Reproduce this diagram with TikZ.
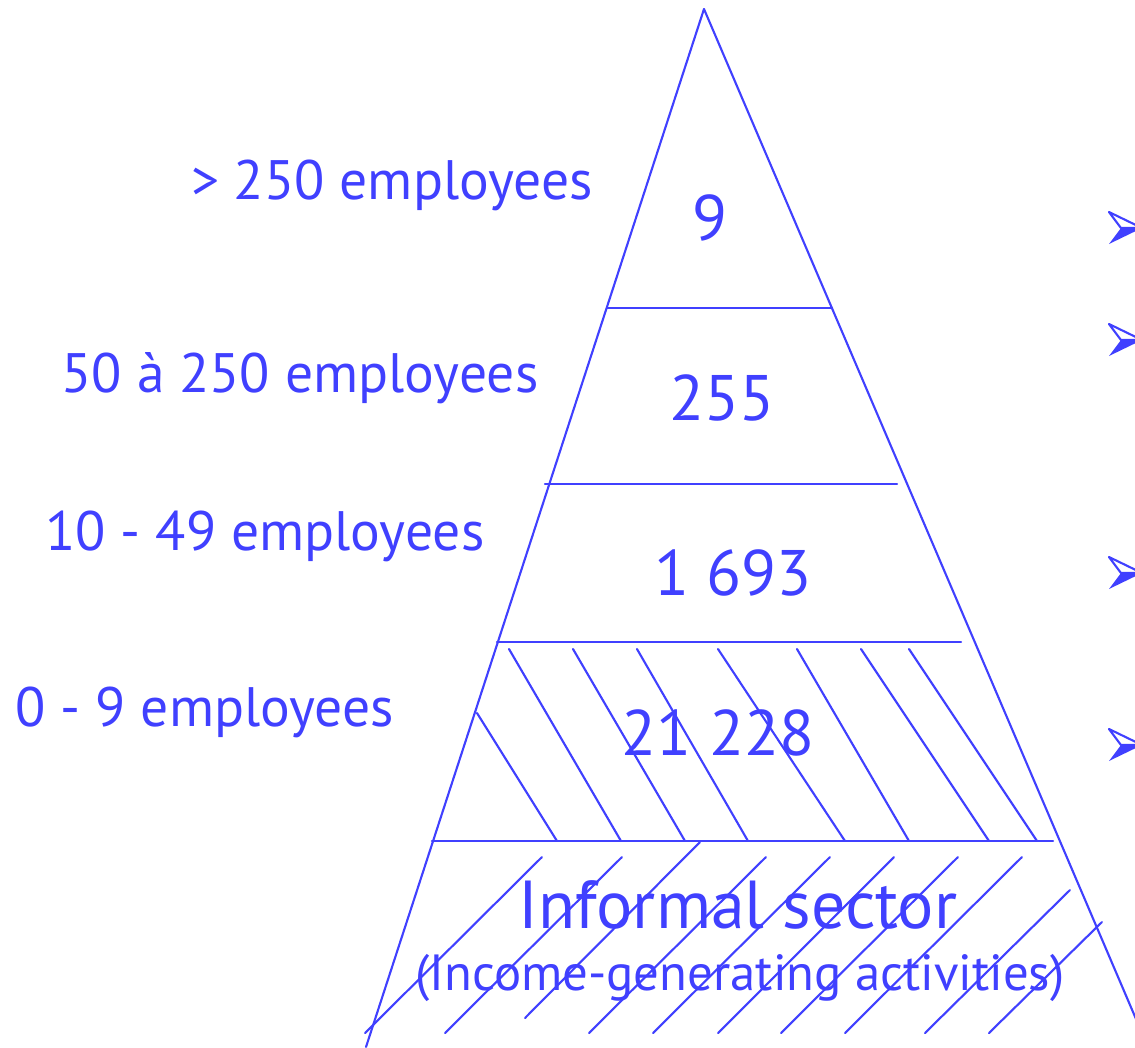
\documentclass[tikz,border=0pt]{standalone}
\usepackage{fontspec}
\setmainfont{PT Sans}
\usepackage{xcolor}
\definecolor{pyrblue}{RGB}{64,64,255}

\begin{document}
\begin{tikzpicture}[line cap=round,line join=round,x=0.01cm,y=-0.01cm,
  pyr/.style={draw=pyrblue,line width=0.6pt},
  lbl/.style={text=pyrblue,anchor=base,inner sep=0pt,font=\fontsize{15.8}{18}\selectfont},
  num/.style={text=pyrblue,anchor=base,inner sep=0pt,font=\fontsize{18.3}{21}\selectfont}]
\useasboundingbox (0,0) rectangle (1135,1047);
\clip (0,0) rectangle (1135,1047);
% pyramid sides
\draw[pyr] (704,9)-- (366,1047);
\draw[pyr] (704,9)-- (1148,1047);
% levels
\draw[pyr] (607,308)-- (832,308);
\draw[pyr] (545,484)-- (897,484);
\draw[pyr] (497,642)-- (961,642);
\draw[pyr] (432,841)-- (1053,841);
% hatching of the small firms
\draw[pyr] (477,713)-- (557,841);
\draw[pyr] (509,649)-- (621,841);
\draw[pyr] (573,649)-- (685,841);
\draw[pyr] (637,649)-- (748,841);
\draw[pyr] (718,649)-- (845,841);
\draw[pyr] (797,649)-- (909,841);
\draw[pyr] (861,649)-- (989,841);
\draw[pyr] (909,649)-- (1037,841);
% hatching of the informal sector
\draw[pyr] (365,1033)-- (542,857);
\draw[pyr] (445,1033)-- (622,857);
\draw[pyr] (525,1018)-- (700,842);
\draw[pyr] (589,1033)-- (766,857);
\draw[pyr] (653,1033)-- (830,857);
\draw[pyr] (718,1033)-- (894,857);
\draw[pyr] (781,1033)-- (958,857);
\draw[pyr] (845,1033)-- (1022,857);
\draw[pyr] (925,1033)-- (1070,890);
\draw[pyr] (989,1033)-- (1102,922);
% size classes
\node[lbl] (large) at (392,199) {> 250 employees};
\node[lbl] (medium) at (300,392) {50 à 250 employees};
\node[lbl] (small) at (265,550) {10 - 49 employees};
\node[lbl] (micro) at (205,726) {0 - 9 employees};
% counts
\node[num] (nlarge) at (710,240) {9};
\node[num] (nmedium) at (722,420) {255};
\node[num] (nsmall) at (733,595) {1 693};
\node[num] (nmicro) at (718,755) {21 228};
\node[num,font=\fontsize{19.3}{22}\selectfont] (informal) at (738,928) {Informal sector};
\node[lbl,font=\fontsize{14.45}{17}\selectfont] (incgen) at (740,990) {(Income-generating activities)};
% bullets
\draw[pyr,fill=white] (1109,212)-- (1142,228)-- (1121,228)-- cycle;
\fill[pyrblue] (1121,228)-- (1142,228)-- (1109,244)-- cycle;
\draw[pyr,fill=white] (1109,324)-- (1142,340)-- (1121,340)-- cycle;
\fill[pyrblue] (1121,340)-- (1142,340)-- (1109,356)-- cycle;
\draw[pyr,fill=white] (1109,557)-- (1142,573)-- (1121,573)-- cycle;
\fill[pyrblue] (1121,573)-- (1142,573)-- (1109,589)-- cycle;
\draw[pyr,fill=white] (1109,729)-- (1142,745)-- (1121,745)-- cycle;
\fill[pyrblue] (1121,745)-- (1142,745)-- (1109,761)-- cycle;
\end{tikzpicture}
\end{document}
